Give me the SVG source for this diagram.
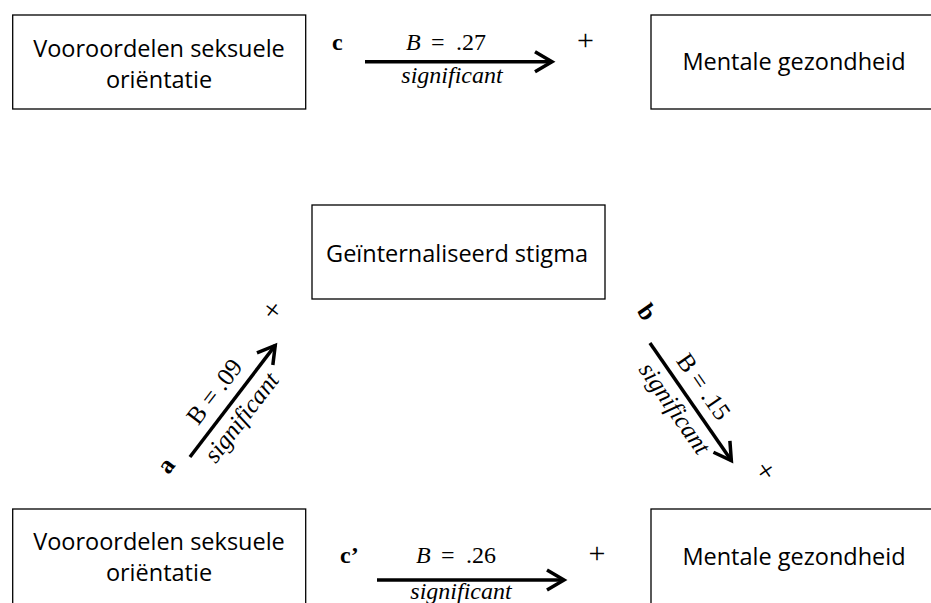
<svg xmlns="http://www.w3.org/2000/svg" width="931" height="603" viewBox="0 0 931 603">
<style>
.box{fill:#fff;stroke:#000;stroke-width:1.3}
.bt{font-family:"Open Sans","Noto Sans",sans-serif;font-size:23.5px;fill:#000;text-anchor:middle}
.tm{font-family:"Liberation Serif","Times New Roman",serif;font-size:24px;fill:#000}
.dg{font-size:25px}
.pl{font-family:"Liberation Serif","Times New Roman",serif;font-size:30px;fill:#000;text-anchor:middle}
.it{font-style:italic}
.bd{font-weight:bold}
.mid{text-anchor:middle}
.arr{stroke:#000;stroke-width:3.5;fill:none;marker-end:url(#ah)}
</style>
<defs>
<marker id="ah" markerUnits="userSpaceOnUse" markerWidth="40" markerHeight="40" viewBox="-25 -20 40 40" refX="0" refY="0" orient="auto" overflow="visible">
<path d="M-17,-10 L0,0 L-17,10" fill="none" stroke="#000" stroke-width="3.5" stroke-linejoin="miter"/>
</marker>
</defs>
<rect width="931" height="603" fill="#fff"/>
<g id="node-vooroordelen-top">
<rect class="box" x="12.7" y="15" width="293" height="94"/>
<text class="bt" x="159" y="56.5">Vooroordelen seksuele</text>
<text class="bt" x="159" y="88">oriëntatie</text>
</g>
<g id="node-mentale-top">
<rect class="box" x="651" y="15" width="294" height="94"/>
<text class="bt" x="794" y="70">Mentale gezondheid</text>
</g>
<g id="node-stigma">
<rect class="box" x="312" y="205" width="293" height="94"/>
<text class="bt" x="457" y="262">Geïnternaliseerd stigma</text>
</g>
<g id="node-vooroordelen-bottom">
<rect class="box" x="12.7" y="509" width="293" height="110"/>
<text class="bt" x="159" y="550">Vooroordelen seksuele</text>
<text class="bt" x="159" y="581">oriëntatie</text>
</g>
<g id="node-mentale-bottom">
<rect class="box" x="651" y="509" width="294" height="110"/>
<text class="bt" x="794" y="565">Mentale gezondheid</text>
</g>
<g id="connectors">
<g id="edge-c">
<line class="arr" x1="365" y1="61.7" x2="552" y2="61.7"/>
<text class="tm bd" x="332" y="50">c</text>
<text class="tm" y="50"><tspan class="it" x="406">B</tspan><tspan x="431">=</tspan><tspan x="456">.27</tspan></text>
<text class="tm it mid" x="452" y="83">significant</text>
<text class="pl" x="585.5" y="50">+</text>
</g>
<g id="edge-cprime">
<line class="arr" x1="377" y1="580" x2="564" y2="580"/>
<text class="tm bd" x="340" y="563">c’</text>
<text class="tm" y="563"><tspan class="it" x="416">B</tspan><tspan x="441">=</tspan><tspan x="466">.26</tspan></text>
<text class="tm it mid" x="461" y="599">significant</text>
<text class="pl" x="597" y="563">+</text>
</g>
<g id="edge-a" transform="translate(233.5,400) rotate(-52.6)">
<line class="arr" x1="-71.7" y1="0" x2="68.7" y2="0"/>
<text class="tm dg bd mid" x="-93" y="-6">a</text>
<text class="tm dg mid" x="-5" y="-12">B = .09</text>
<text class="tm dg it mid" x="-9" y="25">significant</text>
<text class="pl" x="95" y="-14">+</text>
</g>
<g id="edge-b" transform="translate(691.5,403) rotate(55.3)">
<line class="arr" x1="-73" y1="0" x2="70" y2="0"/>
<text class="tm dg bd mid" x="-100" y="-7">b</text>
<text class="tm dg mid" x="-6.6" y="-11">B = .15</text>
<text class="tm dg it mid" x="-5.3" y="25">significant</text>
<text class="pl" x="98" y="-12.5">+</text>
</g>
</g>
</svg>
